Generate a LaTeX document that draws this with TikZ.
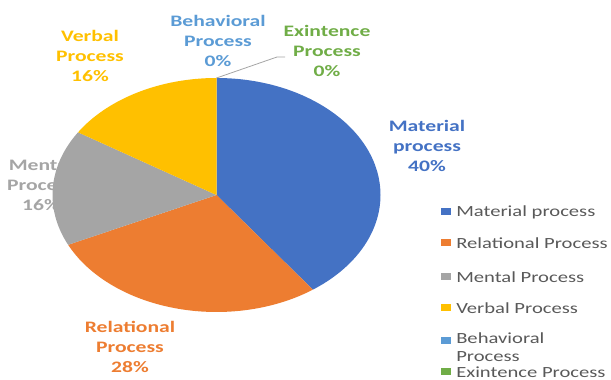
\documentclass[tikz,border=0pt]{standalone}
\usepackage{fontspec}
\setmainfont{Carlito}
\usepackage{tikz}
\definecolor{matblue}{HTML}{4472C4}
\definecolor{relorange}{HTML}{ED7D31}
\definecolor{mentgray}{HTML}{A5A5A5}
\definecolor{verbyellow}{HTML}{FFC000}
\definecolor{behblue}{HTML}{5B9BD5}
\definecolor{exigreen}{HTML}{70AD47}
\definecolor{leggray}{HTML}{595959}

\begin{document}
\begin{tikzpicture}[x=1pt,y=1pt,
		lbl/.style={font=\bfseries\fontsize{16}{20}\selectfont, align=center, xscale=1.35, inner sep=0pt},
		legsq/.style={minimum width=10pt, minimum height=7pt, inner sep=0pt},
		legtxt/.style={font=\fontsize{15.5}{18}\selectfont, text=leggray, align=left, xscale=1.33, inner sep=0pt}]
		\useasboundingbox (0,0) rectangle (611,380);
		\coordinate (c) at (216.5,185);
		
		% data labels
		\node[lbl, text=matblue] (matlbl) at (427,234) {Material\\process\\40\%};
		\node[lbl, text=relorange] (rellbl) at (130,33) {Relational\\Process\\28\%};
		\node[lbl, text=mentgray] (mentlbl) at (41,195) {Mental\\Process\\16\%};
		\node[lbl, text=verbyellow] (verblbl) at (90,324) {Verbal\\Process\\16\%};
		\node[lbl, text=behblue] (behlbl) at (218,339) {Behavioral\\Process\\0\%};
		\node[lbl, text=exigreen] (exilbl) at (327,329) {Exintence\\Process\\0\%};
		
		% slices
		\foreach \a/\b/\col in {90/-54/matblue, -54/-154.8/relorange, -154.8/-212.4/mentgray, -212.4/-270/verbyellow}
			\fill[\col] (c) -- ++(\a:164 and 117) arc[start angle=\a, end angle=\b, x radius=164, y radius=117] -- cycle;
		
		\coordinate (ptop) at (216.5,302);
		\coordinate (bend) at (277,323);
		\coordinate (lend) at (285,323);
		\draw[mentgray, line width=0.8pt] (ptop) -- (bend) -- (lend);
		
		% legend
		\foreach \col/\y/\txt [count=\i] in {matblue/168/Material process, relorange/137/Relational Process, mentgray/103/Mental Process, verbyellow/72/Verbal Process, exigreen/8/Exintence Process}{
			\node[legsq, fill=\col] (sq\i) at (445.5,\y) {};
			\node[legtxt, anchor=west] (leg\i) at (456,\y) {\txt};
		}
		\node[legsq, fill=behblue] (sqbeh) at (445.5,39) {};
		\node[legtxt, anchor=north west] (legbeh) at (456,47) {Behavioral\\Process};
		
\end{tikzpicture}
\end{document}
